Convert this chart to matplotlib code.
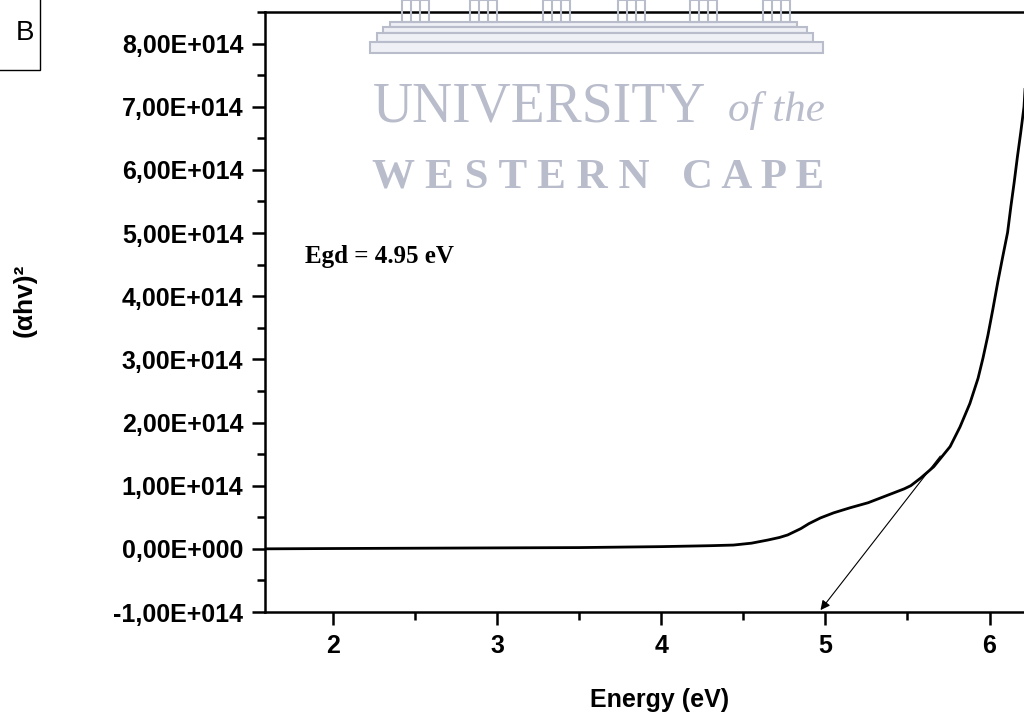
import matplotlib.pyplot as plt
from matplotlib.patches import Rectangle
from matplotlib.ticker import FixedLocator, MultipleLocator, FuncFormatter

# Tauc plot, direct band gap
energy = [1.59, 2.0, 2.5, 3.0, 3.5, 4.0, 4.3, 4.44, 4.55, 4.65, 4.72, 4.77,
          4.81, 4.85, 4.90, 4.97, 5.05, 5.15, 5.26, 5.35, 5.41, 5.48, 5.52,
          5.58, 5.66, 5.76, 5.82, 5.88, 5.93, 5.96, 5.99, 6.02, 6.05, 6.08,
          6.11, 6.13, 6.15, 6.17, 6.19, 6.21, 6.22]
ahv2_e14 = [0.0, 0.005, 0.01, 0.015, 0.02, 0.035, 0.05, 0.06, 0.09, 0.14,
            0.18, 0.22, 0.27, 0.32, 0.40, 0.49, 0.57, 0.65, 0.73, 0.82, 0.88,
            0.95, 1.00, 1.12, 1.30, 1.62, 1.93, 2.30, 2.70, 3.02, 3.38, 3.79,
            4.22, 4.62, 5.01, 5.42, 5.80, 6.21, 6.59, 7.00, 7.45]
ahv2 = [v * 1e14 for v in ahv2_e14]

x_ticks = [2, 3, 4, 5, 6]
y_ticks = [-1e14, 0, 1e14, 2e14, 3e14, 4e14, 5e14, 6e14, 7e14, 8e14]

# tangent extrapolation to the energy axis
tangent_start = (5.70, 1.47e14)
tangent_end = (4.97, -0.97e14)
egd_label = "Egd = 4.95 eV"

W, H = 1024, 717
fig = plt.figure(figsize=(W / 100, H / 100), dpi=100)
ax = fig.add_axes([265 / W, (H - 612) / H, (W - 265) / W, 600 / H])

ax.plot(energy, ahv2, color="black", lw=2.0, zorder=3)
ax.annotate("", xy=tangent_end, xytext=tangent_start,
            arrowprops=dict(arrowstyle="-|>", color="black", lw=0.8,
                            mutation_scale=14, shrinkA=0, shrinkB=0))

ax.set_xlim(1.585, 6.21)
ax.set_ylim(-1e14, 8.5e14)
ax.xaxis.set_major_locator(FixedLocator(x_ticks))
ax.xaxis.set_minor_locator(MultipleLocator(0.5))
ax.yaxis.set_major_locator(FixedLocator(y_ticks))
ax.yaxis.set_minor_locator(MultipleLocator(0.5e14))


def sci_comma(v, pos):
    if v == 0:
        return "0,00E+000"
    return f"{v / 1e14:.2f}".replace(".", ",") + "E+014"


ax.yaxis.set_major_formatter(FuncFormatter(sci_comma))

for s in ["left", "bottom", "top"]:
    ax.spines[s].set_linewidth(1.8)
ax.spines["right"].set_visible(False)

ax.tick_params(which="major", direction="out", length=9.5, width=1.8, pad=6,
               labelsize=18)
ax.tick_params(which="minor", direction="out", length=5.5, width=1.8)
for lab in ax.get_xticklabels() + ax.get_yticklabels():
    lab.set_fontfamily("Liberation Sans")
    lab.set_fontweight("bold")

fig.text(305 / W, 1 - 256 / H, egd_label, fontfamily="Liberation Serif",
         fontweight="bold", fontsize=18, va="center", ha="left")

fig.text(660 / W, 1 - 700 / H, "Energy (eV)", ha="center", va="center",
         fontfamily="Liberation Sans", fontweight="bold", fontsize=18)
fig.text(25 / W, 1 - 300 / H, "(\u03b1hv)\u00b2", ha="center", va="center",
         rotation=90, fontfamily="Liberation Sans", fontweight="bold",
         fontsize=19)

# panel letter in a box
fig.patches.append(Rectangle((-10 / W, 1 - 70 / H), 50 / W, 80 / H,
                             transform=fig.transFigure, fill=False,
                             edgecolor="black", lw=1.0))
fig.text(25 / W, 1 - 33 / H, "B", ha="center", va="center",
         fontfamily="Liberation Sans", fontsize=20)

# faint crest overlay
wm = "#b9bccb"
steps = [(390, 797, 22, 27), (383, 807, 27, 33), (377, 813, 33, 42),
         (370, 823, 42, 53)]
for x0, x1, y0, y1 in steps:
    fig.patches.append(Rectangle((x0 / W, 1 - y1 / H), (x1 - x0) / W,
                                 (y1 - y0) / H, transform=fig.transFigure,
                                 facecolor="#eef0f5", edgecolor=wm, lw=1.5,
                                 zorder=5))
for cx in [402, 470, 543, 618, 690, 763]:
    fig.patches.append(Rectangle((cx / W, 1 - 22 / H), 27 / W, 22 / H,
                                 transform=fig.transFigure, facecolor="none",
                                 edgecolor=wm, lw=1.5, zorder=5))
    for dx in [9, 18]:
        fig.lines.append(plt.Line2D([(cx + dx) / W] * 2, [1 - 22 / H, 1],
                                    transform=fig.transFigure, color=wm,
                                    lw=1.5, zorder=5))
fig.text(373 / W, 1 - 108 / H, "UNIVERSITY", ha="left", va="center",
         fontfamily="Liberation Serif", fontsize=40, color=wm, zorder=6)
fig.text(825 / W, 1 - 110 / H, "of the", ha="right", va="center",
         fontfamily="Liberation Serif", style="italic", fontsize=31,
         color=wm, zorder=6)
fig.text(598 / W, 1 - 177 / H, "W E S T E R N   C A P E", ha="center",
         va="center", fontfamily="Liberation Serif", fontweight="bold",
         fontsize=31, color=wm, zorder=6)

fig.savefig("out.png", dpi=100)
